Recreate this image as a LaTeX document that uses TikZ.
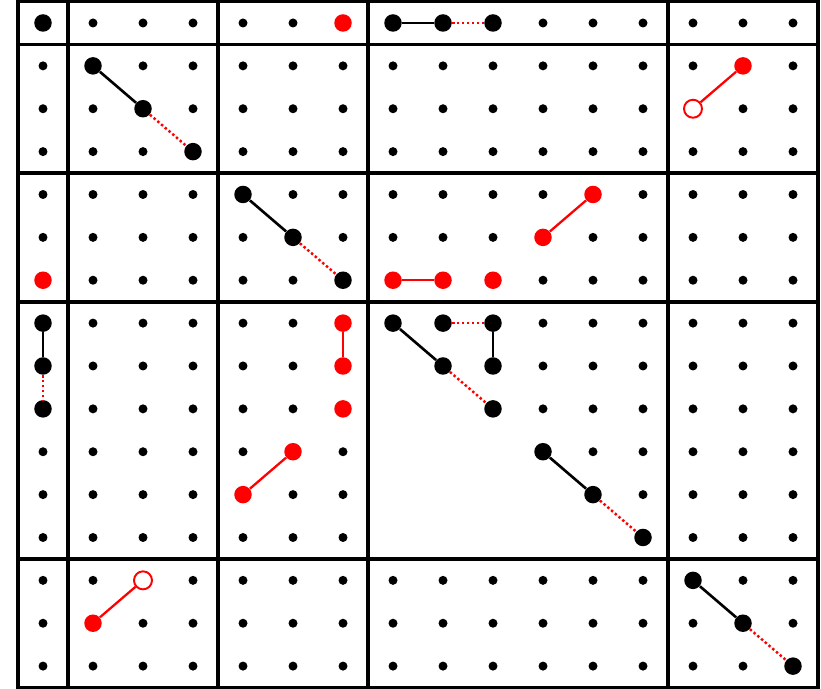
\documentclass[tikz,border=0pt]{standalone}
\usepackage{tikz}

\begin{document}
\begin{tikzpicture}[
    x=1cm, y=-0.8575cm,
    frame/.style={line width=2.1pt},
    smalldot/.style={circle, fill=black, inner sep=0pt, minimum size=0.18cm},
    bigdot/.style={circle, fill=black, inner sep=0pt, minimum size=0.35cm},
    reddot/.style={circle, fill=red, inner sep=0pt, minimum size=0.35cm},
    hollowdot/.style={circle, draw=red, fill=white, line width=1.1pt, inner sep=0pt, minimum size=0.36cm},
    link/.style={line width=1.5pt},
    redlink/.style={red, line width=1.3pt},
    gaplink/.style={red, line width=1.4pt, dash pattern=on 1.4pt off 1.4pt}
]
    \useasboundingbox (-0.86,-0.536) rectangle (15.56,15.533);

    % Block frame
    \draw[frame] (-0.5,-0.5) rectangle (15.5,15.5);
    \foreach \k in {0.5,3.5,6.5,12.5} {
        \draw[frame] (\k,-0.5) -- (\k,15.5);
        \draw[frame] (-0.5,\k) -- (15.5,\k);
    }

    % Small grid dots (lower part of the big block left empty)
    \foreach \i in {0,...,15}
        \foreach \j in {0,...,15} {
            \pgfmathtruncatemacro{\isgap}{(\i>6) && (\i<13) && (\j>6) && (\j<13) && (\i<\j)}
            \ifnum\isgap=0 \node[smalldot] (d\i-\j) at (\i,\j) {}; \fi
        }

    % Black points
    \node[bigdot] (p0-0) at (0,0) {};
    \node[bigdot] (p7-0) at (7,0) {};
    \node[bigdot] (p8-0) at (8,0) {};
    \node[bigdot] (p9-0) at (9,0) {};
    \node[bigdot] (p1-1) at (1,1) {};
    \node[bigdot] (p2-2) at (2,2) {};
    \node[bigdot] (p3-3) at (3,3) {};
    \node[bigdot] (p4-4) at (4,4) {};
    \node[bigdot] (p5-5) at (5,5) {};
    \node[bigdot] (p6-6) at (6,6) {};
    \node[bigdot] (p0-7) at (0,7) {};
    \node[bigdot] (p0-8) at (0,8) {};
    \node[bigdot] (p0-9) at (0,9) {};
    \node[bigdot] (p7-7) at (7,7) {};
    \node[bigdot] (p8-7) at (8,7) {};
    \node[bigdot] (p9-7) at (9,7) {};
    \node[bigdot] (p8-8) at (8,8) {};
    \node[bigdot] (p9-8) at (9,8) {};
    \node[bigdot] (p9-9) at (9,9) {};
    \node[bigdot] (p10-10) at (10,10) {};
    \node[bigdot] (p11-11) at (11,11) {};
    \node[bigdot] (p12-12) at (12,12) {};
    \node[bigdot] (p13-13) at (13,13) {};
    \node[bigdot] (p14-14) at (14,14) {};
    \node[bigdot] (p15-15) at (15,15) {};

    % Red points
    \node[reddot] (r6-0) at (6,0) {};
    \node[reddot] (r14-1) at (14,1) {};
    \node[hollowdot] (h13-2) at (13,2) {};
    \node[reddot] (r11-4) at (11,4) {};
    \node[reddot] (r10-5) at (10,5) {};
    \node[reddot] (r0-6) at (0,6) {};
    \node[reddot] (r7-6) at (7,6) {};
    \node[reddot] (r8-6) at (8,6) {};
    \node[reddot] (r9-6) at (9,6) {};
    \node[reddot] (r6-7) at (6,7) {};
    \node[reddot] (r6-8) at (6,8) {};
    \node[reddot] (r6-9) at (6,9) {};
    \node[reddot] (r5-10) at (5,10) {};
    \node[reddot] (r4-11) at (4,11) {};
    \node[hollowdot] (h2-13) at (2,13) {};
    \node[reddot] (r1-14) at (1,14) {};

    % Black links and red gaps
    \draw[link] (p7-0) -- (p8-0);
    \draw[gaplink] (p8-0) -- (p9-0);
    \draw[link] (p1-1) -- (p2-2);
    \draw[gaplink] (p2-2) -- (p3-3);
    \draw[link] (p4-4) -- (p5-5);
    \draw[gaplink] (p5-5) -- (p6-6);
    \draw[link] (p0-7) -- (p0-8);
    \draw[gaplink] (p0-8) -- (p0-9);
    \draw[link] (p7-7) -- (p8-8);
    \draw[gaplink] (p8-8) -- (p9-9);
    \draw[gaplink] (p8-7) -- (p9-7);
    \draw[link] (p9-7) -- (p9-8);
    \draw[link] (p10-10) -- (p11-11);
    \draw[gaplink] (p11-11) -- (p12-12);
    \draw[link] (p13-13) -- (p14-14);
    \draw[gaplink] (p14-14) -- (p15-15);

    % Red links
    \draw[redlink] (r14-1) -- (h13-2);
    \draw[redlink] (r11-4) -- (r10-5);
    \draw[redlink] (r7-6) -- (r8-6);
    \draw[redlink] (r6-7) -- (r6-8);
    \draw[redlink] (r5-10) -- (r4-11);
    \draw[redlink] (h2-13) -- (r1-14);

\end{tikzpicture}
\end{document}
